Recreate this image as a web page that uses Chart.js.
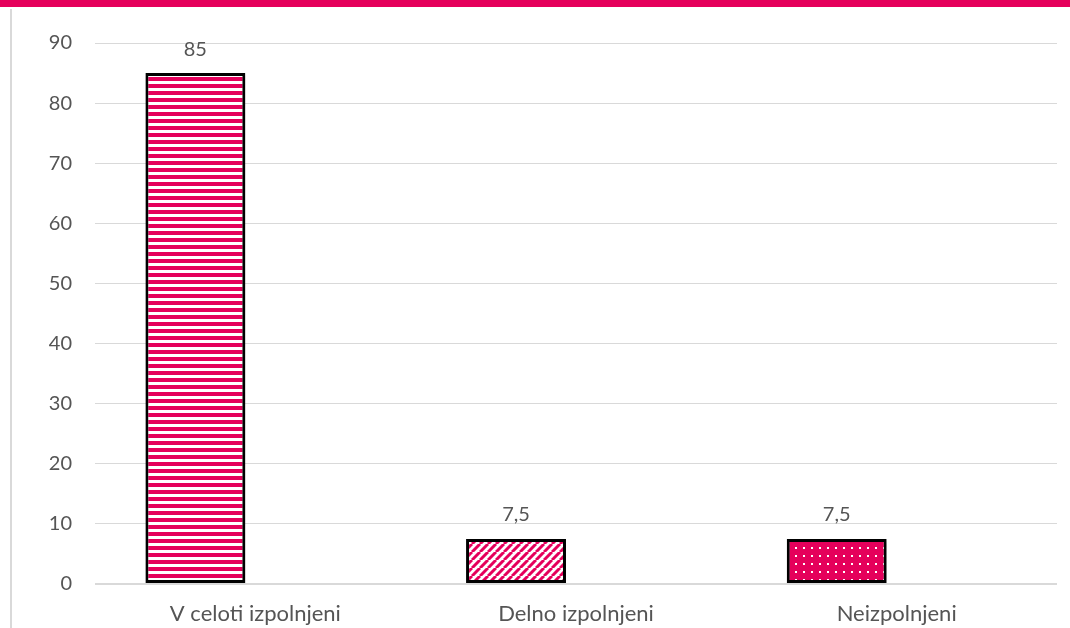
<!DOCTYPE html>
<html>
<head>
<meta charset="utf-8">
<script src="https://cdn.jsdelivr.net/npm/chart.js@4.4.1/dist/chart.umd.min.js"></script>
<style>
  html, body { margin: 0; padding: 0; background: #fff; }
  #wrap { position: relative; width: 1070px; height: 628px; overflow: hidden; }
  #topbar { position: absolute; left: 0; top: 0; width: 1070px; height: 7px; background: #E5005B; }
  #leftline { position: absolute; left: 10px; top: 9px; width: 2px; height: 619px; background: #D9D9D9; }
  #chart { position: absolute; left: 0; top: 0; }
</style>
</head>
<body>
<div id="wrap">
  <div id="topbar"></div>
  <div id="leftline"></div>
  <canvas id="chart" width="1070" height="628"></canvas>
</div>
<script>
// podatki
const categories = ['V celoti izpolnjeni', 'Delno izpolnjeni', 'Neizpolnjeni'];
const values = [85, 7.5, 7.5];
const emptySeries = [null, null, null];
const yTicks = [0, 10, 20, 30, 40, 50, 60, 70, 80, 90];

const MAGENTA = '#E5005B';
const TEXT = '#555555';
const GRID = '#D9D9D9';
const FONT = 'Lato';

// vzorci za polnila
function makePattern(w, h, draw) {
    const c = document.createElement('canvas');
    c.width = w;
    c.height = h;
    const g = c.getContext('2d');
    draw(g, w, h);
    return document.getElementById('chart').getContext('2d').createPattern(c, 'repeat');
}

const stripes = makePattern(1, 7, (g) => {
    g.fillStyle = '#fff';
    g.fillRect(0, 0, 1, 7);
    g.fillStyle = MAGENTA;
    g.fillRect(0, 0, 1, 4);
});

const diagonal = makePattern(8, 8, (g) => {
    g.fillStyle = '#fff';
    g.fillRect(0, 0, 8, 8);
    g.strokeStyle = MAGENTA;
    g.lineWidth = 3;
    g.beginPath();
    for (let k = -8; k <= 16; k += 8) {
        g.moveTo(k, 8);
        g.lineTo(k + 8, 0);
    }
    g.stroke();
});

const dots = makePattern(8, 8, (g) => {
    g.fillStyle = MAGENTA;
    g.fillRect(0, 0, 8, 8);
    g.fillStyle = '#fff';
    g.fillRect(3, 3, 2, 2);
});

// oznake vrednosti nad stolpci
const valueLabels = {
    id: 'valueLabels',
    afterDatasetsDraw(chart) {
        const ctx = chart.ctx;
        const meta = chart.getDatasetMeta(0);
        ctx.save();
        ctx.font = '20px ' + FONT;
        ctx.fillStyle = TEXT;
        ctx.textAlign = 'center';
        ctx.textBaseline = 'middle';
        meta.data.forEach((bar, i) => {
            ctx.fillText(String(values[i]).replace('.', ','), bar.x, bar.y - 24);
        });
        ctx.restore();
    }
};

// rahla senca stolpcev
const barShadow = {
    id: 'barShadow',
    beforeDatasetDraw(chart) {
        const ctx = chart.ctx;
        ctx.save();
        ctx.shadowColor = 'rgba(0,0,0,0.25)';
        ctx.shadowBlur = 5;
        ctx.shadowOffsetX = 3;
        ctx.shadowOffsetY = 2;
    },
    afterDatasetDraw(chart) {
        chart.ctx.restore();
    }
};

new Chart(document.getElementById('chart'), {
    type: 'bar',
    data: {
        labels: categories,
        datasets: [{
            data: values,
            backgroundColor: [stripes, diagonal, dots],
            borderColor: '#000',
            borderWidth: 3,
            borderSkipped: false,
            categoryPercentage: 0.748,
            barPercentage: 0.833
        }, {
            data: emptySeries,
            categoryPercentage: 0.748,
            barPercentage: 0.833
        }]
    },
    options: {
        responsive: false,
        animation: false,
        layout: { padding: { top: 43, right: 13, bottom: 0, left: 0 } },
        plugins: {
            legend: { display: false },
            tooltip: { enabled: false }
        },
        scales: {
            x: {
                grid: { display: false },
                border: { display: false },
                ticks: {
                    color: TEXT,
                    font: { family: FONT, size: 22 },
                    padding: 9,
                    maxRotation: 0
                },
                afterFit(axis) { axis.height = 44; }
            },
            y: {
                min: 0,
                max: 90,
                afterBuildTicks(axis) { axis.ticks = yTicks.map(v => ({ value: v })); },
                grid: {
                    color: GRID,
                    lineWidth: (c) => c.tick && c.tick.value === 0 ? 2 : 1,
                    drawTicks: false
                },
                border: { display: false },
                ticks: {
                    color: TEXT,
                    font: { family: FONT, size: 20 },
                    padding: 23
                },
                afterFit(axis) { axis.width = 95; }
            }
        }
    },
    plugins: [barShadow, valueLabels]
});
</script>
</body>
</html>
